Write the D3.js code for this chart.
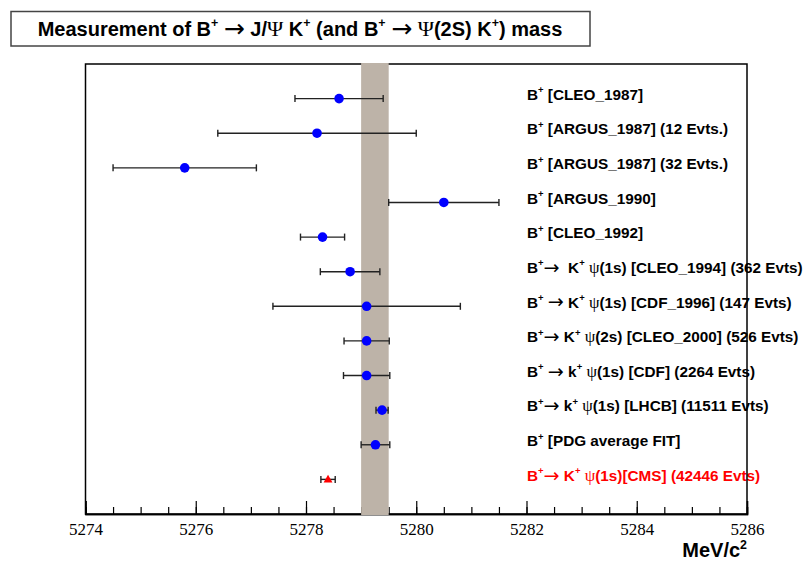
<!DOCTYPE html>
<html>
<head>
<meta charset="utf-8">
<script src="https://cdn.jsdelivr.net/npm/d3@7"></script>
<style>
  html, body { margin: 0; padding: 0; background: #fff; }
  svg { display: block; }
  text { white-space: pre; }
</style>
</head>
<body>
<svg id="chart" width="805" height="563"></svg>
<script>
// ---- data ----
const experiments = [
  "B^+ [CLEO_1987]",
  "B^+ [ARGUS_1987] (12 Evts.)",
  "B^+ [ARGUS_1987] (32 Evts.)",
  "B^+ [ARGUS_1990]",
  "B^+ [CLEO_1992]",
  "B^+→  K^+ ψ(1s) [CLEO_1994] (362 Evts)",
  "B^+ → K^+ ψ(1s) [CDF_1996] (147 Evts)",
  "B^+→ K^+ ψ(2s) [CLEO_2000] (526 Evts)",
  "B^+ → k^+ ψ(1s) [CDF] (2264 Evts)",
  "B^+→ k^+ ψ(1s) [LHCB] (11511 Evts)",
  "B^+ [PDG average FIT]",
  "B^+→ K^+ ψ(1s)[CMS] (42446 Evts)"
];
const masses = [5278.6, 5278.2, 5275.8, 5280.5, 5278.3, 5278.8, 5279.1, 5279.1, 5279.1, 5279.38, 5279.26, 5278.4];
const errors = [0.8, 1.8, 1.3, 1.0, 0.4, 0.54, 1.7, 0.41, 0.42, 0.11, 0.26, 0.13];
const highlight = [false, false, false, false, false, false, false, false, false, false, false, true];
const bandRange = [5279.0, 5279.5];
const xDomain = [5274, 5286];
const majorTicks = [5274, 5276, 5278, 5280, 5282, 5284, 5286];
const titleText = "Measurement of B^+ → J/Ψ K^+ (and B^+ → Ψ(2S) K^+) mass";
const xTitle = "MeV/c^2";

// ---- layout ----
const svg = d3.select("#chart");
const L = 85.5, R = 747, T = 64, B = 514;
const x = d3.scaleLinear().domain(xDomain).range([L, R]);
const nRows = experiments.length;
const y = d3.scaleLinear().domain([0, nRows + 1]).range([B, T]);
const rowY = i => y(nRows - i);

function richText(sel, str, size) {
  const parts = str.split(/(\^.|→|ψ|Ψ)/).filter(s => s.length);
  let pendingDy = 0;
  parts.forEach(p => {
    const t = sel.append("tspan");
    if (p[0] === "^") {
      t.text(p[1]).attr("font-size", size * 0.62).attr("dy", pendingDy - size * 0.42);
      pendingDy = size * 0.42;
    } else {
      t.text(p);
      let dy = pendingDy;
      pendingDy = 0;
      if (p === "→") {
        t.attr("font-weight", "normal").attr("font-family", "DejaVu Sans")
         .attr("font-size", size * 1.25);
        dy += size * 0.06;
        pendingDy = -size * 0.06;
      } else if (p === "ψ" || p === "Ψ") {
        t.attr("font-weight", "normal").attr("font-family", "Liberation Serif, serif")
         .attr("font-size", size * 1.1);
      }
      if (dy) t.attr("dy", dy);
    }
  });
}

// ---- title box ----
svg.append("rect")
  .attr("x", 11).attr("y", 11.5).attr("width", 579).attr("height", 34.5)
  .attr("fill", "#fff").attr("stroke", "#444").attr("stroke-width", 1.5);
const title = svg.append("text")
  .attr("x", 300).attr("y", 35.5)
  .attr("text-anchor", "middle")
  .attr("font-family", "Liberation Sans, Arial, sans-serif")
  .attr("font-weight", "bold").attr("font-size", 20)
  .attr("fill", "#000");
richText(title, titleText, 20);

// ---- labels (drawn beneath the frame) ----
experiments.forEach((lab, i) => {
  const t = svg.append("text")
    .attr("x", 527).attr("y", rowY(i) + 1.2)
    .attr("font-family", "Liberation Sans, Arial, sans-serif")
    .attr("font-weight", "bold").attr("font-size", 15.3)
    .attr("fill", highlight[i] ? "#ff0000" : "#000");
  richText(t, lab, 15.3);
});

// ---- frame ----
svg.append("rect")
  .attr("x", L).attr("y", T).attr("width", R - L).attr("height", B - T)
  .attr("fill", "none").attr("stroke", "#000").attr("stroke-width", 1.5);

// ---- axis ----
const minorAxis = d3.axisBottom(x)
  .tickValues(d3.range(xDomain[0], xDomain[1] + 0.001, 0.5))
  .tickSize(-7).tickFormat("");
const majorAxis = d3.axisBottom(x)
  .tickValues(majorTicks).tickSize(-13).tickPadding(9)
  .tickFormat(d3.format("d"));
const gMinor = svg.append("g").attr("transform", `translate(0,${B})`).call(minorAxis);
const gMajor = svg.append("g").attr("transform", `translate(0,${B})`).call(majorAxis);
[gMinor, gMajor].forEach(g => {
  g.select(".domain").attr("stroke", "#000").attr("stroke-width", 1.5);
  g.selectAll(".tick line").attr("stroke", "#000").attr("stroke-width", 1.2);
});
gMajor.selectAll(".tick text")
  .attr("font-family", "Liberation Serif, Times New Roman, serif")
  .attr("font-size", 17).attr("fill", "#000");

// ---- band ----
svg.append("rect")
  .attr("x", x(bandRange[0])).attr("y", T - 1)
  .attr("width", x(bandRange[1]) - x(bandRange[0]))
  .attr("height", B - T + 2)
  .attr("fill", "#bdb3a8");

// ---- error bars ----
const rows = masses.map((m, i) => ({ m, e: errors[i], i, hl: highlight[i] }));
const eb = svg.append("g").attr("stroke", "#222").attr("stroke-width", 1.4);
rows.forEach(d => {
  const yy = rowY(d.i);
  eb.append("line").attr("x1", x(d.m - d.e)).attr("x2", x(d.m + d.e)).attr("y1", yy).attr("y2", yy);
  [d.m - d.e, d.m + d.e].forEach(v => {
    eb.append("line").attr("x1", x(v)).attr("x2", x(v)).attr("y1", yy - 3.5).attr("y2", yy + 3.5);
  });
});

// ---- markers ----
svg.append("g").selectAll("circle")
  .data(rows.filter(d => !d.hl)).join("circle")
  .attr("cx", d => x(d.m)).attr("cy", d => rowY(d.i)).attr("r", 4.8)
  .attr("fill", "#0000ff");
svg.append("g").selectAll("path")
  .data(rows.filter(d => d.hl)).join("path")
  .attr("d", d3.symbol(d3.symbolTriangle, 34))
  .attr("transform", d => `translate(${x(d.m)},${rowY(d.i) + 0.5})`)
  .attr("fill", "#ff0000");

// ---- x title ----
const xt = svg.append("text")
  .attr("x", R).attr("y", 557).attr("text-anchor", "end")
  .attr("font-family", "Liberation Sans, Arial, sans-serif")
  .attr("font-weight", "bold").attr("font-size", 20).attr("fill", "#000");
richText(xt, xTitle, 20);
</script>
</body>
</html>
